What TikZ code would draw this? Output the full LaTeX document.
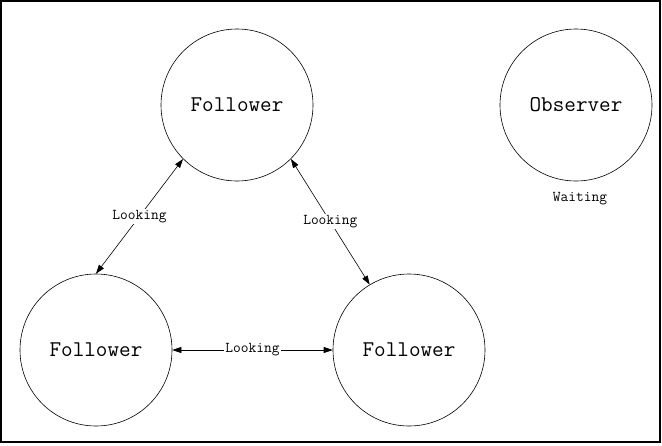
\documentclass[tikz,border=0pt]{standalone}
\usetikzlibrary{arrows.meta}
\begin{document}
\begin{tikzpicture}[x=1pt,y=-1pt,
  state/.style={circle,draw,line width=0.6pt,minimum size=152pt,inner sep=0pt,font=\ttfamily\fontsize{22.5}{24}\selectfont},
  link/.style={line width=0.6pt,{Triangle[length=9pt,width=6pt]}-{Triangle[length=9pt,width=6pt]}},
  lab/.style={fill=white,inner sep=1pt,font=\ttfamily\fontsize{15}{17}\selectfont}]
\useasboundingbox (0,0) rectangle (662,445);
\node[draw,line width=1.3pt,minimum width=659pt,minimum height=441pt,inner sep=0pt] (frame) at (330.5,221.5) {};
\node[state] (top) at (237,105) {Follower};
\node[state] (obs) at (576,105) {Observer};
\node[state] (bl) at (96,350) {Follower};
\node[state] (br) at (409,350) {Follower};
\node[lab,fill=none] (wait) at (580,199) {Waiting};
\draw[link] (top.south west) -- node[lab]{Looking} (bl.north);
\draw[link] (top.south east) -- node[lab]{Looking} (br.121);
\draw[link] (bl.east) -- node[lab]{Looking} (br.west);
\end{tikzpicture}
\end{document}
